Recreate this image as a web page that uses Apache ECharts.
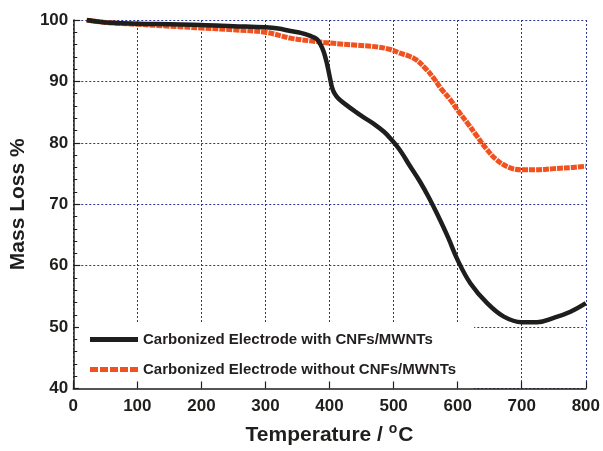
<!DOCTYPE html>
<html>
<head>
<meta charset="utf-8">
<script src="https://cdn.jsdelivr.net/npm/echarts@6/dist/echarts.min.js"></script>
<style>html,body{margin:0;padding:0;background:#fff}#c{width:603px;height:451px}</style>
</head>
<body>
<div id="c"></div>
<script>
var seriesNames = ['Carbonized Electrode with CNFs/MWNTs', 'Carbonized Electrode without CNFs/MWNTs'];
var tempWith = [21, 50, 100, 150, 200, 250, 300, 320, 339, 355, 370, 380, 386, 391, 396, 400, 404, 408, 414, 427, 440, 451, 469, 485, 495, 510, 525, 541, 555, 568, 585, 600, 620, 646, 672, 700, 724, 750, 776, 800];
var massWith = [100, 99.6, 99.4, 99.3, 99.2, 99.0, 98.8, 98.6, 98.2, 97.9, 97.4, 96.9, 96.0, 94.8, 92.9, 90.9, 89.0, 88.0, 87.2, 86.1, 85.1, 84.3, 83.1, 81.8, 80.7, 78.8, 76.3, 73.7, 71.1, 68.4, 64.6, 60.9, 57.1, 53.9, 51.7, 50.8, 50.8, 51.5, 52.5, 53.9];
var tempWithout = [21, 50, 100, 150, 200, 250, 300, 339, 370, 400, 443, 475, 495, 510, 522, 534, 549, 562, 575, 588, 600, 614, 630, 645, 660, 680, 700, 720, 750, 780, 800];
var massWithout = [100, 99.6, 99.3, 99.0, 98.7, 98.4, 98.0, 97.05, 96.6, 96.25, 95.9, 95.6, 95.2, 94.6, 94.2, 93.6, 92.2, 90.6, 88.7, 87.1, 85.3, 83.4, 81.1, 79.0, 77.3, 76.0, 75.6, 75.6, 75.8, 76.0, 76.2];

function pairs(xs, ys) { return xs.map(function (x, i) { return [x, ys[i]]; }); }

var black = '#1e1e1c';
var orange = '#f1511f';
var gridColor = '#2b3590';
var font = 'Liberation Sans, Arial, sans-serif';

var chart = echarts.init(document.getElementById('c'), null, {renderer: 'canvas'});
chart.setOption({
  animation: false,
  backgroundColor: '#fff',
  grid: {left: 73, top: 20, right: 17, bottom: 58, containLabel: false},
  xAxis: [{
    type: 'value', min: 0, max: 800, interval: 100, z: 6,
    name: 'Temperature / {sup|o}C', nameLocation: 'middle', nameGap: 34,
    nameTextStyle: {fontFamily: font, fontWeight: 'bold', fontSize: 21, color: black,
      rich: {sup: {fontFamily: font, fontWeight: 'bold', fontSize: 14, color: black, padding: [0, 1, 12, 0]}}},
    axisLine: {show: true, onZero: false, lineStyle: {color: black, width: 1.5}},
    axisTick: {show: true, inside: true, length: 7, lineStyle: {color: black, width: 1.2}},
    axisLabel: {margin: 9, fontFamily: font, fontWeight: 'bold', fontSize: 17, color: black},
    splitLine: {show: false}
  }, {
    type: 'value', min: 0, max: 800, interval: 100, position: 'bottom', z: 0,
    axisLine: {show: false}, axisTick: {show: false}, axisLabel: {show: false},
    splitLine: {show: true, lineStyle: {color: gridColor, width: 1, type: [2, 2]}}
  }],
  yAxis: {
    type: 'value', min: 40, max: 100, interval: 10,
    name: 'Mass Loss %', nameLocation: 'middle', nameGap: 41,
    nameTextStyle: {fontFamily: font, fontWeight: 'bold', fontSize: 21, color: black},
    axisLine: {show: true, onZero: false, lineStyle: {color: black, width: 1.5}},
    axisTick: {show: true, inside: true, length: 7, lineStyle: {color: black, width: 1.2}},
    minorTick: {show: true, splitNumber: 5, length: 4, lineStyle: {color: black, width: 1}},
    axisLabel: {margin: 5, fontFamily: font, fontWeight: 'bold', fontSize: 17, color: black},
    splitLine: {show: true, lineStyle: {color: gridColor, width: 1, type: [2, 2]}}
  },
  legend: {
    orient: 'vertical', left: 79, top: 322, z: 4,
    backgroundColor: '#fff', padding: [10, 18, 16, 11],
    itemWidth: 48, itemHeight: 14, itemGap: 15,
    textStyle: {fontFamily: font, fontWeight: 'bold', fontSize: 15, color: '#231f20', lineHeight: 15},
    data: [
      {name: seriesNames[0], icon: 'path://M0,0L48,0L48,5L0,5Z', itemStyle: {color: black}},
      {name: seriesNames[1], icon: 'path://M0,0h8v5h-8zM10,0h8v5h-8zM20,0h8v5h-8zM30,0h8v5h-8zM40,0h8v5h-8z', itemStyle: {color: orange}}
    ]
  },
  series: [
    {
      name: seriesNames[0], type: 'line', xAxisIndex: 0, data: pairs(tempWith, massWith),
      smooth: 0.4, showSymbol: false, symbol: 'none', z: 3,
      lineStyle: {color: black, width: 4.5}, itemStyle: {color: black}
    },
    {
      name: seriesNames[1], type: 'line', xAxisIndex: 0, data: pairs(tempWithout, massWithout),
      smooth: 0.4, showSymbol: false, symbol: 'none', z: 2,
      lineStyle: {color: orange, width: 5, type: [6, 1]}, itemStyle: {color: orange}
    }
  ]
});
</script>
</body>
</html>
